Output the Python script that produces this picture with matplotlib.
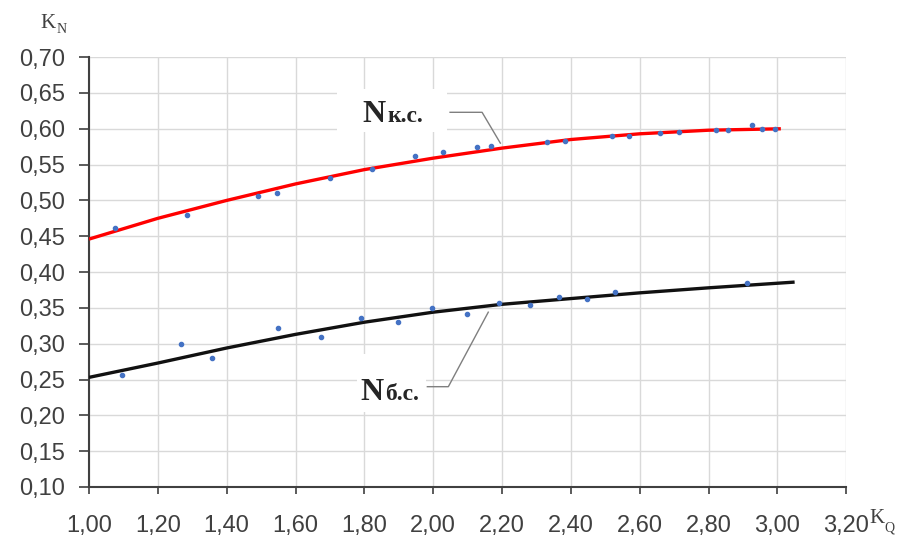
import matplotlib.pyplot as plt
from matplotlib.patches import Rectangle

# experimental points (blue dots)
kq_ks = [1.076, 1.285, 1.491, 1.547, 1.70, 1.823, 1.948, 2.029, 2.128, 2.169, 2.331,
         2.384, 2.52, 2.57, 2.66, 2.715, 2.823, 2.855, 2.927, 2.956, 2.994]
kn_ks = [0.461, 0.480, 0.506, 0.510, 0.531, 0.544, 0.562, 0.567, 0.574, 0.576, 0.581,
         0.583, 0.590, 0.590, 0.594, 0.595, 0.598, 0.598, 0.605, 0.600, 0.600]
kq_bs = [1.096, 1.267, 1.358, 1.55, 1.674, 1.79, 1.898, 1.997, 2.099, 2.19, 2.28,
         2.366, 2.448, 2.529, 2.913]
kn_bs = [0.256, 0.300, 0.280, 0.322, 0.309, 0.336, 0.330, 0.350, 0.341, 0.357, 0.354,
         0.365, 0.362, 0.372, 0.385]

# trend lines
tr_x_ks = [1.0, 1.2, 1.4, 1.6, 1.8, 2.0, 2.2, 2.4, 2.6, 2.8, 3.01]
tr_y_ks = [0.446, 0.475, 0.500, 0.523, 0.543, 0.559, 0.573, 0.585, 0.593, 0.598, 0.600]
tr_x_bs = [1.0, 1.2, 1.4, 1.6, 1.8, 2.0, 2.2, 2.4, 2.6, 2.8, 3.05]
tr_y_bs = [0.253, 0.273, 0.294, 0.313, 0.330, 0.344, 0.355, 0.363, 0.371, 0.378, 0.386]

x_ticks = [1.0, 1.2, 1.4, 1.6, 1.8, 2.0, 2.2, 2.4, 2.6, 2.8, 3.0, 3.2]
y_ticks = [0.10, 0.15, 0.20, 0.25, 0.30, 0.35, 0.40, 0.45, 0.50, 0.55, 0.60, 0.65, 0.70]

sans = ['Liberation Sans', 'DejaVu Sans']
serif = ['Liberation Serif', 'DejaVu Serif']

fig = plt.figure(figsize=(9.08, 5.39), dpi=100)
ax = fig.add_axes([0.098, 0.0965, 0.834, 0.7975])

ax.plot(tr_x_ks, tr_y_ks, color='#ff0000', lw=2.4, zorder=3, solid_capstyle='butt')
ax.plot(tr_x_bs, tr_y_bs, color='#111111', lw=2.4, zorder=3, solid_capstyle='butt')
ax.plot(kq_ks, kn_ks, 'o', color='#4472c4', ms=3, zorder=4)
ax.plot(kq_bs, kn_bs, 'o', color='#4472c4', ms=3, zorder=4)

ax.set_xlim(1.0, 3.2)
ax.set_ylim(0.10, 0.70)
ax.set_xticks(x_ticks)
ax.set_yticks(y_ticks)
ax.set_xticklabels([f'{v:.2f}'.replace('.', ',') for v in x_ticks], fontfamily=sans, fontsize=17, color='#404040')
ax.set_yticklabels([f'{v:.2f}'.replace('.', ',') for v in y_ticks], fontfamily=sans, fontsize=17, color='#404040')
ax.tick_params(axis='x', length=5, width=1.2, color='#404040', pad=15)
ax.tick_params(axis='y', length=7, width=1.2, color='#404040', pad=10)

ax.grid(True, color='#d9d9d9', lw=1)
ax.set_axisbelow(True)
for s in ['top', 'right']:
    ax.spines[s].set_visible(False)
for s in ['left', 'bottom']:
    ax.spines[s].set_color('#404040')
    ax.spines[s].set_linewidth(1.5)

# white patches behind the curve labels
ax.add_patch(Rectangle((1.72, 0.595), 0.32, 0.06, facecolor='white', edgecolor='none', zorder=1))
ax.add_patch(Rectangle((1.78, 0.205), 0.20, 0.08, facecolor='white', edgecolor='none', zorder=1))

# curve labels with leader lines
ax.text(1.794, 0.609, 'N', fontfamily=serif, fontweight='bold', fontsize=23, color='#262626', zorder=5)
ax.text(1.866, 0.609, 'к.с.', fontfamily=serif, fontweight='bold', fontsize=17, color='#262626', zorder=5)
ax.plot([2.049, 2.142, 2.195], [0.623, 0.623, 0.580], color='#7f7f7f', lw=1, zorder=5)

ax.text(1.788, 0.2214, 'N', fontfamily=serif, fontweight='bold', fontsize=23, color='#262626', zorder=5)
ax.text(1.860, 0.2214, 'б.с.', fontfamily=serif, fontweight='bold', fontsize=17, color='#262626', zorder=5)
ax.plot([1.983, 2.044, 2.160], [0.240, 0.240, 0.344], color='#7f7f7f', lw=1, zorder=5)

# axis names
fig.text(40 / 908, 1 - 28 / 539, 'K', fontfamily=serif, fontsize=15, color='#404040')
fig.text(57 / 908, 1 - 33 / 539, 'N', fontfamily=serif, fontsize=10, color='#404040')
fig.text(869 / 908, 1 - 523 / 539, 'K', fontfamily=serif, fontsize=15, color='#404040')
fig.text(884 / 908, 1 - 532 / 539, 'Q', fontfamily=serif, fontsize=10, color='#404040')

fig.savefig('out.png', dpi=100)
